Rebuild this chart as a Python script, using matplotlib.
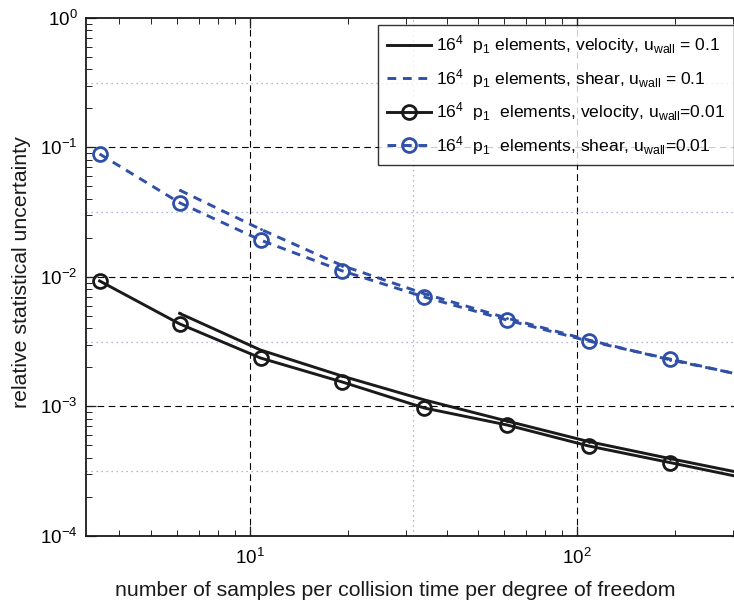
import numpy as np
import matplotlib
matplotlib.use("Agg")
import matplotlib.pyplot as plt
from matplotlib.ticker import LogLocator, FuncFormatter, NullFormatter

plt.rcParams['font.family'] = ['Liberation Sans', 'DejaVu Sans']
plt.rcParams['mathtext.fontset'] = 'custom'
plt.rcParams['mathtext.rm'] = 'Liberation Sans'
plt.rcParams['mathtext.it'] = 'Liberation Sans'
plt.rcParams['mathtext.default'] = 'regular'

# ---- data ----
x_samples = [3.48, 6.11, 10.8, 19.2, 34.2, 61.1, 108.6, 193.2, 343.0]

vel_01 = [None, 0.00522, 0.00272, 0.00171, 0.00112, 0.00077, 0.000534, 0.000394, 0.000294]
shear_01 = [None, 0.0467, 0.0233, 0.0122, 0.0074, 0.0048, 0.00325, 0.00228, 0.00168]
vel_001 = [0.00929, 0.00433, 0.00236, 0.00154, 0.00097, 0.000718, 0.000494, 0.000367, 0.000272]
shear_001 = [0.0888, 0.0373, 0.0192, 0.0111, 0.00698, 0.00464, 0.00319, 0.00231, 0.00167]

labels = [r"16$^4$  p$_1$ elements, velocity, u$_{wall}$ = 0.1",
          r"16$^4$  p$_1$ elements, shear, u$_{wall}$ = 0.1",
          r"16$^4$  p$_1$  elements, velocity, u$_{wall}$=0.01",
          r"16$^4$  p$_1$  elements, shear, u$_{wall}$=0.01"]

xlabel = "number of samples per collision time per degree of freedom"
ylabel = "relative statistical uncertainty"

BLUE = '#3050a8'
BLACK = '#1a1a1a'

W, H = 734, 606
fig = plt.figure(figsize=(W/100, H/100), dpi=100)
left, right, top, bottom = 86, 740.5, 17.8, 535.8
ax = fig.add_axes([left/W, 1-bottom/H, (right-left)/W, (bottom-top)/H])

def split(xs, ys):
    pts = [(a, b) for a, b in zip(xs, ys) if b is not None]
    return [p[0] for p in pts], [p[1] for p in pts]

lw = 2.1
dash = (3.0, 2.3)
xa, ya = split(x_samples, vel_01)
ax.plot(xa, ya, '-', color=BLACK, lw=lw, marker='.', ms=2, label=labels[0])
xa, ya = split(x_samples, shear_01)
ax.plot(xa, ya, '--', color=BLUE, lw=lw, marker='.', ms=2, dashes=dash, label=labels[1])
ax.plot(x_samples, vel_001, '-', color=BLACK, lw=lw, marker='o', ms=10, mfc='none',
        mew=2.0, label=labels[2])
ax.plot(x_samples, shear_001, '--', color=BLUE, lw=lw, marker='o', ms=10, mfc='none',
        mew=2.0, dashes=dash, label=labels[3])

ax.set_xscale('log')
ax.set_yscale('log')
ax.set_xlim(10**0.5, 10**2.5)
ax.set_ylim(1e-4, 1)

# grids
for e in [1, 2]:
    ax.axvline(10**e, color='black', lw=0.8, ls=(0, (6, 4)), zorder=0.5)
for e in [-3, -2, -1]:
    ax.axhline(10**e, color='black', lw=0.8, ls=(0, (6, 4)), zorder=0.5)
for e in [1.5]:
    ax.axvline(10**e, color='#9a9ee0', lw=0.9, ls=(0, (1, 3)), zorder=0.5)
for e in [-0.5, -1.5, -2.5, -3.5]:
    ax.axhline(10**e, color='#9a9ee0', lw=0.9, ls=(0, (1, 3)), zorder=0.5)

fmt = FuncFormatter(lambda v, p: r"$10^{%d}$" % int(round(np.log10(v))))
ax.xaxis.set_major_locator(LogLocator(base=10, numticks=10))
ax.yaxis.set_major_locator(LogLocator(base=10, numticks=10))
ax.xaxis.set_minor_locator(LogLocator(base=10, subs=np.arange(2, 10), numticks=20))
ax.yaxis.set_minor_locator(LogLocator(base=10, subs=np.arange(2, 10), numticks=20))
ax.xaxis.set_major_formatter(fmt)
ax.yaxis.set_major_formatter(fmt)
ax.xaxis.set_minor_formatter(NullFormatter())
ax.yaxis.set_minor_formatter(NullFormatter())
ax.tick_params(which='both', direction='in', top=True, right=True, color='#222222')
ax.tick_params(which='major', length=7, width=0.9, labelsize=13.5, pad=6)
ax.tick_params(which='minor', length=4, width=0.7)
ax.tick_params(axis='x', which='major', pad=9)
for s in ax.spines.values():
    s.set_linewidth(1.3)
    s.set_color('#1a1a1a')

ax.set_xlabel(xlabel, fontsize=15.3, color='#1a1a1a')
ax.set_ylabel(ylabel, fontsize=15.3, color='#1a1a1a')
ax.xaxis.set_label_coords((395 - left) / (right - left), -(590 - bottom) / (bottom - top))
ax.xaxis.label.set_va('center')
ax.yaxis.set_label_coords(-(left - 22) / (right - left), (bottom - 272) / (bottom - top))
ax.yaxis.label.set_va('center')

leg = ax.legend(loc='upper right', bbox_to_anchor=((734 - left) / (right - left), 1 - 7/(bottom-top)),
                borderaxespad=0.0, fontsize=12.6, handlelength=2.5, handletextpad=0.3,
                labelspacing=0.6, frameon=True, fancybox=False, borderpad=0.5)
leg.get_frame().set_edgecolor('black')
leg.get_frame().set_linewidth(1.0)

fig.savefig('out.png', dpi=100)
